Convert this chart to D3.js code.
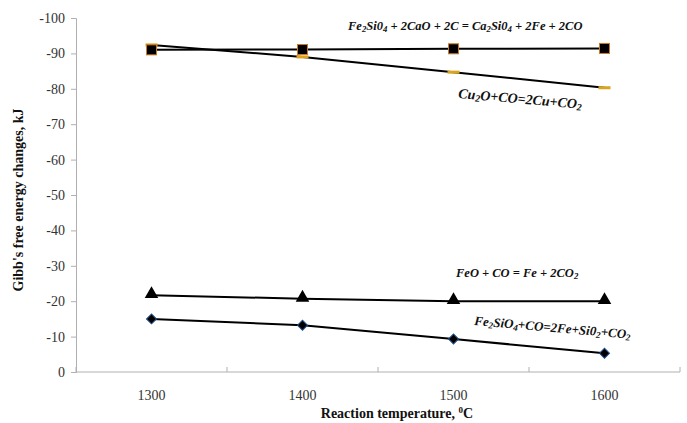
<!DOCTYPE html>
<html>
<head>
<meta charset="utf-8">
<script src="https://cdn.jsdelivr.net/npm/d3@7"></script>
<style>
  body { margin: 0; background: #fff; }
  text { font-family: "Liberation Serif", "Times New Roman", serif; }
</style>
</head>
<body>
<div id="chart"></div>
<script>
// data
var temps = ["1300", "1400", "1500", "1600"];
var yTicks = [0, -10, -20, -30, -40, -50, -60, -70, -80, -90, -100];
var caoSeries = [-91.0, -91.1, -91.3, -91.4];   // Fe2SiO4+2CaO+2C
var cu2oSeries = [-92.4, -89.0, -84.7, -80.3];  // Cu2O+CO
var feoSeries = [-21.7, -20.7, -20.0, -20.0];   // FeO+CO
var fesSeries = [-15.0, -13.2, -9.3, -5.3];     // Fe2SiO4+CO

var svgWidth = 687;
var svgHeight = 423;

var margin = { top: 18, right: 7, bottom: 51, left: 76 };
var width = svgWidth - margin.left - margin.right;
var height = svgHeight - margin.top - margin.bottom;

var svg = d3.select("#chart")
  .append("svg")
  .attr("width", svgWidth)
  .attr("height", svgHeight);

var chartGroup = svg.append("g")
  .attr("transform", `translate(${margin.left}, ${margin.top})`);

var xScale = d3.scaleBand().domain(temps).range([0, width]).padding(0);
var yScale = d3.scaleLinear().domain([0, -100]).range([height, 0]);

// y axis
var yAxis = chartGroup.append("g")
  .call(d3.axisLeft(yScale).tickValues(yTicks).tickFormat(d => String(d)).tickSize(5).tickPadding(6));
yAxis.select(".domain").attr("stroke", "#b0b0b0");
yAxis.selectAll(".tick line").attr("stroke", "#b0b0b0");
yAxis.selectAll(".tick text")
  .attr("font-size", 14)
  .attr("fill", "#333")
  .style("font-family", "Liberation Serif");

// x axis - labels centred in bands, ticks on band edges pointing up
var xAxis = chartGroup.append("g")
  .attr("transform", `translate(0, ${height})`);
xAxis.append("line")
  .attr("x1", 0).attr("x2", width)
  .attr("stroke", "#b0b0b0");
var edges = temps.map(t => xScale(t)).concat([width]);
xAxis.selectAll(".xtick")
  .data(edges)
  .enter()
  .append("line")
  .attr("x1", d => d).attr("x2", d => d)
  .attr("y1", 0).attr("y2", -5)
  .attr("stroke", "#b0b0b0");
xAxis.selectAll(".xlab")
  .data(temps)
  .enter()
  .append("text")
  .attr("x", d => xScale(d) + xScale.bandwidth() / 2)
  .attr("y", 28)
  .attr("text-anchor", "middle")
  .attr("font-size", 14)
  .attr("fill", "#333")
  .text(d => d);

var cx = d => xScale(d) + xScale.bandwidth() / 2;

var line = d3.line()
  .x((d, i) => cx(temps[i]))
  .y(d => yScale(d));

function drawLine(values) {
  chartGroup.append("path")
    .datum(values)
    .attr("d", line)
    .attr("fill", "none")
    .attr("stroke", "#000")
    .attr("stroke-width", 2);
}

drawLine(cu2oSeries);
drawLine(caoSeries);
drawLine(feoSeries);
drawLine(fesSeries);

// Cu2O markers - small yellow dashes
chartGroup.selectAll(".cu")
  .data(cu2oSeries)
  .enter()
  .append("rect")
  .attr("x", (d, i) => cx(temps[i]) - 6)
  .attr("y", d => yScale(d) - 1.5)
  .attr("width", 12)
  .attr("height", 3)
  .attr("fill", "#d9a520");

// squares
chartGroup.selectAll(".sq")
  .data(caoSeries)
  .enter()
  .append("rect")
  .attr("x", (d, i) => cx(temps[i]) - 5)
  .attr("y", d => yScale(d) - 5)
  .attr("width", 10)
  .attr("height", 10)
  .attr("fill", "#000")
  .attr("stroke", "#c97a22")
  .attr("stroke-width", 1);

// triangles
chartGroup.selectAll(".tri")
  .data(feoSeries)
  .enter()
  .append("path")
  .attr("d", d3.symbol().type(d3.symbolTriangle).size(80))
  .attr("transform", (d, i) => `translate(${cx(temps[i])}, ${yScale(d) - 1})`)
  .attr("fill", "#000");

// diamonds (square turned 45deg)
chartGroup.selectAll(".dia")
  .data(fesSeries)
  .enter()
  .append("path")
  .attr("d", d3.symbol().type(d3.symbolSquare).size(50))
  .attr("transform", (d, i) => `translate(${cx(temps[i])}, ${yScale(d)}) rotate(45)`)
  .attr("fill", "#000")
  .attr("stroke", "#1f4e8c")
  .attr("stroke-width", 1);

// text with subscripts written as _x
function formula(x, y, str, rotate, size) {
  var t = svg.append("text")
    .attr("x", x)
    .attr("y", y)
    .attr("font-size", size)
    .attr("font-style", "italic")
    .attr("font-weight", "bold")
    .attr("fill", "#111");
  if (rotate) t.attr("transform", `rotate(${rotate}, ${x}, ${y})`);
  var parts = str.split(/(_\w)/);
  parts.forEach(p => {
    if (p === "") return;
    if (p[0] === "_") {
      t.append("tspan").attr("font-size", size * 0.7).attr("baseline-shift", "-20%").text(p[1]);
    } else {
      t.append("tspan").text(p);
    }
  });
}

formula(348, 30, "Fe_2Si0_4 + 2CaO + 2C = Ca_2Si0_4 + 2Fe  + 2CO", 0, 12.5);
formula(458, 98, "Cu_2O+CO=2Cu+CO_2", 5, 14);
formula(456, 277, "FeO + CO = Fe + 2CO_2", 0, 12.5);
formula(474, 325, "Fe_2SiO_4+CO=2Fe+Si0_2+CO_2", 5, 13);

// axis titles
svg.append("text")
  .attr("transform", "translate(23, 200) rotate(-90)")
  .attr("text-anchor", "middle")
  .attr("font-size", 14)
  .attr("font-weight", "bold")
  .attr("fill", "#111")
  .text("Gibb's free energy changes, kJ");

var xt = svg.append("text")
  .attr("x", 397)
  .attr("y", 418)
  .attr("text-anchor", "middle")
  .attr("font-size", 14)
  .attr("font-weight", "bold")
  .attr("fill", "#111");
xt.append("tspan").text("Reaction temperature, ");
xt.append("tspan").attr("font-size", 9).attr("baseline-shift", "super").text("0");
xt.append("tspan").text("C");
</script>
</body>
</html>
